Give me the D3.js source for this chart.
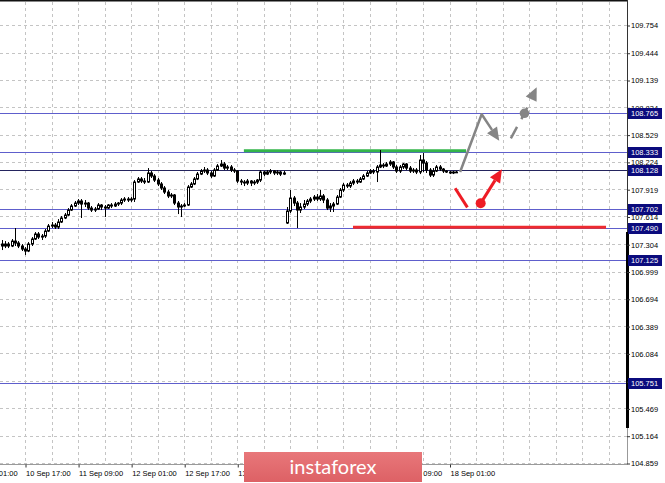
<!DOCTYPE html>
<html><head><meta charset="utf-8">
<script src="https://cdn.jsdelivr.net/npm/d3@7"></script>
<style>html,body{margin:0;padding:0;background:#fff;overflow:hidden}</style>
</head><body>
<svg id="c" width="665" height="483"></svg>
<script>
// ---- data ----
const priceTicks = [109.754,109.444,109.139,108.834,108.529,108.224,107.919,107.614,107.304,106.999,106.694,106.389,106.084,105.774,105.469,105.164,104.859];
const levels = [108.765,108.333,108.128,107.702,107.490,107.125,105.751];
const currentLevel = 108.128;
const timeTickIdx = [-8,8,24,40,56,72,88,104,120,136];
const timeTickLabels = ["10 Sep 01:00","10 Sep 17:00","11 Sep 09:00","12 Sep 01:00","12 Sep 17:00","13 Sep 09:00","16 Sep 01:00","16 Sep 17:00","17 Sep 09:00","18 Sep 01:00"];

const open = [107.328,107.306,107.284,107.306,107.284,107.339,107.317,107.284,107.250,107.228,107.306,107.362,107.418,107.384,107.395,107.451,107.507,107.518,107.496,107.552,
107.597,107.630,107.686,107.731,107.764,107.787,107.753,107.764,107.708,107.686,107.697,107.742,107.720,107.708,107.742,107.731,107.753,107.764,107.798,107.809,
107.798,107.809,107.999,108.033,108.010,107.999,108.100,108.066,108.021,107.977,107.932,107.887,107.843,107.854,107.764,107.720,107.731,107.742,107.943,107.977,
108.033,108.088,108.122,108.133,108.100,108.066,108.133,108.178,108.200,108.155,108.167,108.133,108.122,108.010,107.999,107.988,108.010,107.988,107.999,108.021,
108.111,108.088,108.111,108.122,108.100,108.111,108.088,107.541,107.675,107.820,107.764,107.686,107.720,107.753,107.787,107.809,107.831,107.809,107.843,107.798,
107.708,107.731,107.753,107.831,107.910,107.965,107.954,107.988,108.010,107.999,108.033,108.066,108.100,108.122,108.111,108.167,108.189,108.178,108.200,108.223,
108.167,108.122,108.167,108.200,108.155,108.122,108.133,108.111,108.245,108.211,108.133,108.077,108.122,108.167,108.144,108.122,108.111,108.100,108.111];
const high = [107.362,107.351,107.339,107.328,107.362,107.485,107.339,107.306,107.272,107.328,107.384,107.440,107.440,107.418,107.474,107.530,107.552,107.541,107.585,107.619,
107.653,107.708,107.753,107.787,107.809,107.809,107.798,107.776,107.731,107.720,107.764,107.753,107.742,107.753,107.764,107.776,107.776,107.820,107.831,107.831,
107.831,108.021,108.055,108.055,108.044,108.155,108.122,108.088,108.044,107.999,107.954,107.910,107.876,107.865,107.787,107.753,107.764,107.965,107.999,108.055,
108.111,108.144,108.167,108.155,108.122,108.155,108.200,108.245,108.223,108.189,108.189,108.155,108.133,108.033,108.021,108.033,108.021,108.021,108.033,108.133,
108.122,108.133,108.144,108.133,108.133,108.122,108.122,107.720,107.910,107.843,107.787,107.764,107.798,107.809,107.831,107.854,107.865,107.910,107.865,107.820,
107.764,107.776,107.854,107.932,107.988,107.988,108.010,108.033,108.033,108.055,108.088,108.122,108.144,108.144,108.189,108.357,108.211,108.223,108.245,108.234,
108.189,108.189,108.211,108.211,108.178,108.155,108.155,108.301,108.323,108.234,108.155,108.155,108.189,108.189,108.155,108.133,108.122,108.122,108.122];
const low = [107.261,107.239,107.261,107.261,107.272,107.284,107.261,107.228,107.183,107.216,107.284,107.351,107.362,107.351,107.373,107.440,107.485,107.474,107.474,107.541,
107.585,107.619,107.675,107.720,107.742,107.597,107.720,107.686,107.664,107.664,107.686,107.686,107.608,107.697,107.708,107.720,107.731,107.742,107.776,107.776,
107.776,107.776,107.988,107.988,107.977,107.988,108.044,107.999,107.954,107.910,107.865,107.820,107.820,107.742,107.641,107.608,107.720,107.731,107.932,107.965,
108.021,108.077,108.100,108.077,108.044,108.055,108.122,108.167,108.133,108.133,108.111,108.100,107.988,107.965,107.954,107.965,107.954,107.965,107.977,107.999,
108.066,108.077,108.088,108.077,108.077,108.066,108.077,107.530,107.653,107.731,107.485,107.653,107.697,107.731,107.764,107.787,107.787,107.787,107.764,107.686,
107.664,107.664,107.742,107.820,107.887,107.932,107.932,107.965,107.977,107.988,108.021,108.055,108.088,108.088,107.999,108.155,108.155,108.167,108.178,108.144,
108.100,108.100,108.144,108.133,108.100,108.100,108.088,108.088,108.111,108.100,108.055,108.055,108.111,108.122,108.100,108.100,108.088,108.088,108.100];
const close = [107.306,107.284,107.306,107.284,107.339,107.317,107.284,107.250,107.228,107.306,107.362,107.418,107.384,107.395,107.451,107.507,107.518,107.496,107.552,107.597,
107.630,107.686,107.731,107.764,107.787,107.753,107.764,107.708,107.686,107.697,107.742,107.720,107.708,107.742,107.731,107.753,107.764,107.798,107.809,107.798,
107.809,107.999,108.033,108.010,107.999,108.100,108.066,108.021,107.977,107.932,107.887,107.843,107.854,107.764,107.720,107.731,107.742,107.943,107.977,108.033,
108.088,108.122,108.133,108.100,108.066,108.133,108.178,108.200,108.155,108.167,108.133,108.122,108.010,107.999,107.988,108.010,107.988,107.999,108.021,108.111,
108.088,108.111,108.122,108.100,108.111,108.088,108.100,107.675,107.820,107.764,107.686,107.720,107.753,107.787,107.809,107.831,107.809,107.843,107.798,107.708,
107.731,107.753,107.831,107.910,107.965,107.954,107.988,108.010,107.999,108.033,108.066,108.100,108.122,108.111,108.167,108.189,108.178,108.200,108.223,108.167,
108.122,108.167,108.200,108.155,108.122,108.133,108.111,108.245,108.211,108.133,108.077,108.122,108.167,108.144,108.122,108.111,108.100,108.111,108.111];

// support / resistance marks: [bar index, price]
const greenLine = [[74, 108.35],[141, 108.35]];
const redLine = [[106.9, 107.495],[183.2, 107.495]];
const grayPath = [[139.2, 108.111],[145.7, 108.756],[151.0, 108.461]];
const grayDashed = [[154.5, 108.487],[158.6, 108.767],[162.3, 109.057]];
const redStroke = [[137.7, 107.929],[141.4, 107.716]];
const redArrow = [[145.4, 107.761],[151.8, 108.141]];

// ---- drawing ----
const svg = d3.select("#c");
const W = 627, B = 464.5;
const x = d3.scaleLinear().domain([8,136]).range([25,449.5]);
const y = d3.scaleLinear().domain([104.859,109.754]).range([463,25]);
const font = "'Liberation Sans', Arial, sans-serif";

const plot = svg.append("g");
// grid
const gx = d3.range(0, 190, 8);
plot.selectAll("line.vg").data(gx).join("line")
  .attr("x1", d=>Math.round(x(d))+0.5).attr("x2", d=>Math.round(x(d))+0.5)
  .attr("y1", 2).attr("y2", B)
  .attr("stroke", "#c4c4c4").attr("stroke-dasharray", "3,3");
plot.selectAll("line.hg").data(priceTicks).join("line")
  .attr("x1", 0).attr("x2", W)
  .attr("y1", d=>Math.round(y(d))+0.5).attr("y2", d=>Math.round(y(d))+0.5)
  .attr("stroke", "#c4c4c4").attr("stroke-dasharray", "3,3");

// level lines
plot.selectAll("line.lv").data(levels).join("line")
  .attr("x1", 0).attr("x2", W)
  .attr("y1", d=>Math.round(y(d))+0.5).attr("y2", d=>Math.round(y(d))+0.5)
  .attr("shape-rendering", "crispEdges")
  .attr("stroke", d=> d===currentLevel ? "#24245e" : "#5e5ecc").attr("stroke-width", 1);

// green & red horizontal
const line = d3.line().x(d=>x(d[0])).y(d=>y(d[1]));
plot.append("path").attr("d", line(greenLine)).attr("stroke", "#33b54a").attr("stroke-width", 3).attr("fill","none");
plot.append("path").attr("d", line(redLine)).attr("stroke", "#ee2b2f").attr("stroke-width", 3).attr("fill","none");

// candles
const idx = d3.range(close.length);
const cg = plot.append("g");
idx.forEach(i => {
  const cx = Math.round(x(i)) + 0.5;
  cg.append("line").attr("x1", cx).attr("x2", cx)
    .attr("y1", y(high[i])).attr("y2", y(low[i])).attr("stroke", "#000").attr("stroke-width", 1);
  const top = Math.min(y(open[i]), y(close[i]));
  const h = Math.max(Math.abs(y(open[i]) - y(close[i])), 0.8);
  const bull = close[i] >= open[i];
  cg.append("rect").attr("x", cx - 1).attr("y", top).attr("width", 2).attr("height", h)
    .attr("fill", bull ? "#fff" : "#000").attr("stroke", "#000").attr("stroke-width", 1);
});

// arrows
function head(g, from, to, color, len, half) {
  const x1 = x(from[0]), y1 = y(from[1]), x2 = x(to[0]), y2 = y(to[1]);
  const dx = x2 - x1, dy = y2 - y1, L = Math.hypot(dx, dy);
  const ux = dx / L, uy = dy / L;
  const bx = x2 - ux * len, by = y2 - uy * len;
  g.append("path").attr("d", `M${x2},${y2}L${bx - uy*half},${by + ux*half}L${bx + uy*half},${by - ux*half}Z`)
    .attr("fill", color);
  return [bx, by];
}
const ag = plot.append("g");
// gray solid
{
  const n = grayPath.length;
  const base = head(ag, grayPath[n-2], grayPath[n-1], "#858585", 13, 6);
  const pts = grayPath.slice(0, n-1).map(d=>[x(d[0]), y(d[1])]).concat([base]);
  ag.append("path").attr("d", d3.line()(pts)).attr("stroke", "#858585").attr("stroke-width", 2.5).attr("fill", "none").attr("stroke-linejoin","round");
}
// gray dashed
{
  const base = head(ag, grayDashed[1], grayDashed[2], "#858585", 13, 6);
  ag.append("path").attr("d", d3.line()([[x(grayDashed[0][0]), y(grayDashed[0][1])],[x(grayDashed[1][0]), y(grayDashed[1][1])], base]))
    .attr("stroke", "#858585").attr("stroke-width", 2.5).attr("fill","none").attr("stroke-dasharray","13,9");
  ag.append("circle").attr("cx", x(grayDashed[1][0])).attr("cy", y(grayDashed[1][1])).attr("r", 4.8).attr("fill", "#858585");
}
// red
{
  ag.append("path").attr("d", line(redStroke)).attr("stroke", "#ee1c25").attr("stroke-width", 3).attr("fill","none");
  const base = head(ag, redArrow[0], redArrow[1], "#ee1c25", 13, 6);
  ag.append("path").attr("d", d3.line()([[x(redArrow[0][0]), y(redArrow[0][1])], base]))
    .attr("stroke", "#ee1c25").attr("stroke-width", 3).attr("fill","none");
  ag.append("circle").attr("cx", x(redArrow[0][0])).attr("cy", y(redArrow[0][1])).attr("r", 5).attr("fill", "#ee1c25");
}

// borders
svg.append("line").attr("x1",0).attr("x2",W+1).attr("y1",0.75).attr("y2",0.75).attr("stroke","#111").attr("stroke-width",1.5);
svg.append("line").attr("x1",W+0.5).attr("x2",W+0.5).attr("y1",0).attr("y2",428).attr("stroke","#333");
svg.append("line").attr("x1",W+0.5).attr("x2",W+0.5).attr("y1",428).attr("y2",B).attr("stroke","#999");
svg.append("line").attr("x1",W+0.5).attr("x2",W+0.5).attr("y1",232).attr("y2",428).attr("stroke","#000").attr("stroke-width",3);

// right axis
const ra = svg.append("g").attr("transform", `translate(${W},0.5)`)
  .call(d3.axisRight(y).tickValues(priceTicks).tickSize(3).tickPadding(1).tickFormat(d3.format(".3f")));
ra.select(".domain").remove();
ra.selectAll(".tick line").attr("stroke", "#333");
ra.selectAll(".tick text").attr("font-family", font).attr("font-size", 7.5).attr("fill", "#000");

// level labels
const lg = svg.append("g");
levels.forEach(v => {
  const yy = Math.round(y(v)) + 0.5;
  lg.append("rect").attr("x", W+1).attr("y", yy - 5.5).attr("width", 34).attr("height", 11).attr("fill", "#0b0b7d");
  lg.append("text").attr("x", W+4).attr("y", yy).attr("dy", "0.34em")
    .attr("font-family", font).attr("font-size", 7.5).attr("fill", "#fff").text(d3.format(".3f")(v));
});

// bottom axis
svg.append("line").attr("x1",0).attr("x2",W).attr("y1",B).attr("y2",B).attr("stroke","#9a9a9a");
const ba = svg.append("g").attr("transform", `translate(0.5,${B})`)
  .call(d3.axisBottom(x).tickValues(timeTickIdx).tickSize(3).tickFormat((d,i)=>timeTickLabels[i]));
ba.select(".domain").remove();
ba.selectAll(".tick line").attr("stroke", "#333");
ba.selectAll(".tick text").attr("font-family", font).attr("font-size", 7.5).attr("fill", "#000")
  .attr("text-anchor", "start").attr("x", 0).attr("y", 6).attr("dy", "0.71em");

// logo
const defs = svg.append("defs");
const gr = defs.append("linearGradient").attr("id","lg").attr("x1",0).attr("x2",0).attr("y1",0).attr("y2",1);
gr.append("stop").attr("offset","0%").attr("stop-color","#e8777a");
gr.append("stop").attr("offset","100%").attr("stop-color","#dd6165");
svg.append("rect").attr("x",244).attr("y",452).attr("width",178).attr("height",30).attr("fill","url(#lg)");
svg.append("text").attr("x",333).attr("y",474).attr("text-anchor","middle")
  .attr("font-family","Lato, 'Open Sans', sans-serif").attr("font-size",20).attr("fill","#fff").text("instaforex");
</script>
</body></html>
